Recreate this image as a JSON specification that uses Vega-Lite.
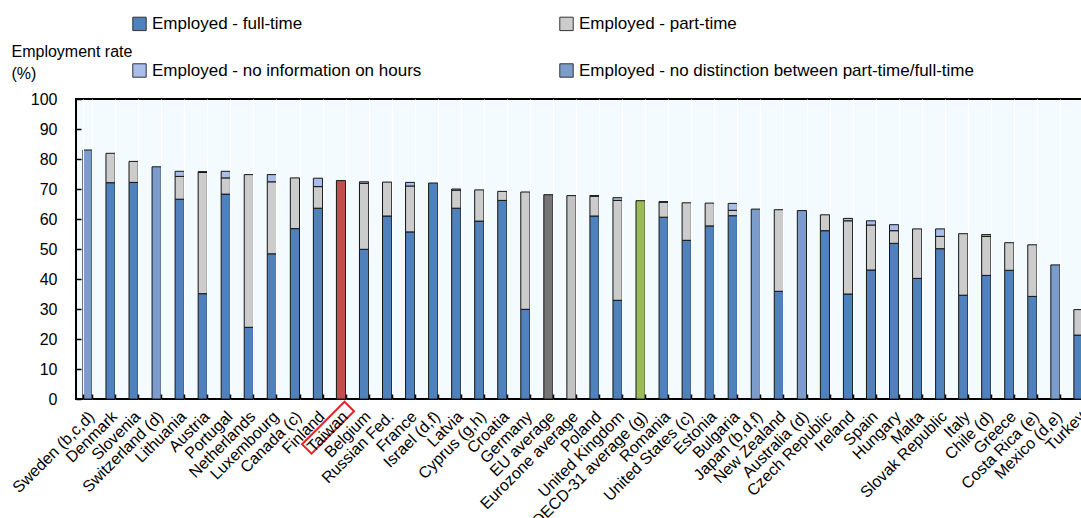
{
  "$schema": "https://vega.github.io/schema/vega-lite/v6.json",
  "width": 1014,
  "height": 300,
  "autosize": {"type": "none"},
  "padding": {"left": 76, "top": 99, "right": 0, "bottom": 119},
  "background": "#FFFFFF",
  "config": {
    "font": "Liberation Sans",
    "view": {"fill": "#F4FBFE", "stroke": "#000000", "strokeWidth": 2},
    "axis": {"labelColor": "#000000", "labelFont": "Liberation Sans", "titleColor": "#000000"}
  },
  "data": {
    "values": [
      {"country": "Sweden (b,c,d)", "type": "Employed - no distinction between part-time/full-time", "value": 83.0},
      {"country": "Denmark", "type": "Employed - full-time", "value": 72.1},
      {"country": "Denmark", "type": "Employed - part-time", "value": 9.8},
      {"country": "Slovenia", "type": "Employed - full-time", "value": 72.2},
      {"country": "Slovenia", "type": "Employed - part-time", "value": 7.0},
      {"country": "Switzerland (d)", "type": "Employed - no distinction between part-time/full-time", "value": 77.4},
      {"country": "Lithuania", "type": "Employed - full-time", "value": 66.6},
      {"country": "Lithuania", "type": "Employed - part-time", "value": 7.6},
      {"country": "Lithuania", "type": "Employed - no information on hours", "value": 1.7},
      {"country": "Austria", "type": "Employed - full-time", "value": 35.1},
      {"country": "Austria", "type": "Employed - part-time", "value": 40.4},
      {"country": "Austria", "type": "Employed - no information on hours", "value": 0.3},
      {"country": "Portugal", "type": "Employed - full-time", "value": 68.3},
      {"country": "Portugal", "type": "Employed - part-time", "value": 5.4},
      {"country": "Portugal", "type": "Employed - no information on hours", "value": 2.2},
      {"country": "Netherlands", "type": "Employed - full-time", "value": 23.9},
      {"country": "Netherlands", "type": "Employed - part-time", "value": 50.9},
      {"country": "Luxembourg", "type": "Employed - full-time", "value": 48.4},
      {"country": "Luxembourg", "type": "Employed - part-time", "value": 24.0},
      {"country": "Luxembourg", "type": "Employed - no information on hours", "value": 2.4},
      {"country": "Canada (c)", "type": "Employed - full-time", "value": 56.8},
      {"country": "Canada (c)", "type": "Employed - part-time", "value": 16.9},
      {"country": "Finland", "type": "Employed - full-time", "value": 63.6},
      {"country": "Finland", "type": "Employed - part-time", "value": 7.2},
      {"country": "Finland", "type": "Employed - no information on hours", "value": 2.8},
      {"country": "Taiwan", "type": "Total - Taiwan", "value": 72.8},
      {"country": "Belgium", "type": "Employed - full-time", "value": 49.9},
      {"country": "Belgium", "type": "Employed - part-time", "value": 22.0},
      {"country": "Belgium", "type": "Employed - no information on hours", "value": 0.5},
      {"country": "Russian Fed.", "type": "Employed - full-time", "value": 61.0},
      {"country": "Russian Fed.", "type": "Employed - part-time", "value": 11.3},
      {"country": "France", "type": "Employed - full-time", "value": 55.7},
      {"country": "France", "type": "Employed - part-time", "value": 15.3},
      {"country": "France", "type": "Employed - no information on hours", "value": 1.2},
      {"country": "Israel (d,f)", "type": "Employed - full-time", "value": 72.0},
      {"country": "Latvia", "type": "Employed - full-time", "value": 63.6},
      {"country": "Latvia", "type": "Employed - part-time", "value": 6.0},
      {"country": "Latvia", "type": "Employed - no information on hours", "value": 0.4},
      {"country": "Cyprus (g,h)", "type": "Employed - full-time", "value": 59.3},
      {"country": "Cyprus (g,h)", "type": "Employed - part-time", "value": 10.4},
      {"country": "Croatia", "type": "Employed - full-time", "value": 66.2},
      {"country": "Croatia", "type": "Employed - part-time", "value": 3.0},
      {"country": "Germany", "type": "Employed - full-time", "value": 29.9},
      {"country": "Germany", "type": "Employed - part-time", "value": 39.1},
      {"country": "EU average", "type": "Total - EU average", "value": 68.1},
      {"country": "Eurozone average", "type": "Total - Eurozone average", "value": 67.8},
      {"country": "Poland", "type": "Employed - full-time", "value": 61.0},
      {"country": "Poland", "type": "Employed - part-time", "value": 6.6},
      {"country": "Poland", "type": "Employed - no information on hours", "value": 0.2},
      {"country": "United Kingdom", "type": "Employed - full-time", "value": 32.9},
      {"country": "United Kingdom", "type": "Employed - part-time", "value": 33.3},
      {"country": "United Kingdom", "type": "Employed - no information on hours", "value": 0.9},
      {"country": "OECD-31 average (g)", "type": "Total - OECD-31 average", "value": 66.1},
      {"country": "Romania", "type": "Employed - full-time", "value": 60.6},
      {"country": "Romania", "type": "Employed - part-time", "value": 5.0},
      {"country": "Romania", "type": "Employed - no information on hours", "value": 0.2},
      {"country": "United States (c)", "type": "Employed - full-time", "value": 52.9},
      {"country": "United States (c)", "type": "Employed - part-time", "value": 12.5},
      {"country": "Estonia", "type": "Employed - full-time", "value": 57.7},
      {"country": "Estonia", "type": "Employed - part-time", "value": 7.6},
      {"country": "Bulgaria", "type": "Employed - full-time", "value": 61.1},
      {"country": "Bulgaria", "type": "Employed - part-time", "value": 1.8},
      {"country": "Bulgaria", "type": "Employed - no information on hours", "value": 2.3},
      {"country": "Japan (b,d,f)", "type": "Employed - no distinction between part-time/full-time", "value": 63.3},
      {"country": "New Zealand", "type": "Employed - full-time", "value": 35.9},
      {"country": "New Zealand", "type": "Employed - part-time", "value": 27.2},
      {"country": "Australia (d)", "type": "Employed - no distinction between part-time/full-time", "value": 62.8},
      {"country": "Czech Republic", "type": "Employed - full-time", "value": 56.1},
      {"country": "Czech Republic", "type": "Employed - part-time", "value": 5.3},
      {"country": "Ireland", "type": "Employed - full-time", "value": 35.0},
      {"country": "Ireland", "type": "Employed - part-time", "value": 24.4},
      {"country": "Ireland", "type": "Employed - no information on hours", "value": 0.8},
      {"country": "Spain", "type": "Employed - full-time", "value": 43.0},
      {"country": "Spain", "type": "Employed - part-time", "value": 15.0},
      {"country": "Spain", "type": "Employed - no information on hours", "value": 1.4},
      {"country": "Hungary", "type": "Employed - full-time", "value": 51.9},
      {"country": "Hungary", "type": "Employed - part-time", "value": 4.2},
      {"country": "Hungary", "type": "Employed - no information on hours", "value": 2.0},
      {"country": "Malta", "type": "Employed - full-time", "value": 40.2},
      {"country": "Malta", "type": "Employed - part-time", "value": 16.5},
      {"country": "Slovak Republic", "type": "Employed - full-time", "value": 50.1},
      {"country": "Slovak Republic", "type": "Employed - part-time", "value": 4.1},
      {"country": "Slovak Republic", "type": "Employed - no information on hours", "value": 2.5},
      {"country": "Italy", "type": "Employed - full-time", "value": 34.6},
      {"country": "Italy", "type": "Employed - part-time", "value": 20.5},
      {"country": "Chile (d)", "type": "Employed - full-time", "value": 41.2},
      {"country": "Chile (d)", "type": "Employed - part-time", "value": 13.0},
      {"country": "Chile (d)", "type": "Employed - no information on hours", "value": 0.6},
      {"country": "Greece", "type": "Employed - full-time", "value": 42.9},
      {"country": "Greece", "type": "Employed - part-time", "value": 9.2},
      {"country": "Costa Rica (e)", "type": "Employed - full-time", "value": 34.2},
      {"country": "Costa Rica (e)", "type": "Employed - part-time", "value": 17.2},
      {"country": "Mexico (d,e)", "type": "Employed - no distinction between part-time/full-time", "value": 44.7},
      {"country": "Turkey", "type": "Employed - full-time", "value": 21.3},
      {"country": "Turkey", "type": "Employed - part-time", "value": 8.5}
    ]
  },
  "transform": [
    {"calculate": "indexof(['Employed - full-time', 'Employed - part-time', 'Employed - no information on hours'], datum.type)", "as": "stackOrder"}
  ],
  "encoding": {
    "x": {
      "field": "country",
      "type": "nominal",
      "sort": null,
      "scale": {"paddingInner": 0.6, "paddingOuter": 0.3},
      "axis": {
        "title": null,
        "labelAngle": -45,
        "labelAlign": "right",
        "labelBaseline": "top",
        "labelFontSize": 16,
        "labelLimit": 300,
        "labelPadding": 9,
        "labelOffset": -2,
        "labelOverlap": false,
        "ticks": true,
        "tickBand": "extent",
        "tickSize": 5,
        "offset": -5,
        "tickColor": "#000000",
        "tickWidth": 1.5,
        "domain": false,
        "grid": true,
        "gridColor": "#FFFFFF",
        "gridWidth": 1,
        "zindex": 1
      }
    }
  },
  "layer": [
    {
      "mark": {"type": "bar", "stroke": "#141414", "strokeWidth": 1},
      "encoding": {
        "y": {
          "field": "value",
          "type": "quantitative",
          "stack": "zero",
          "scale": {"domain": [0, 100], "nice": false},
          "axis": {
            "values": [0, 10, 20, 30, 40, 50, 60, 70, 80, 90, 100],
            "title": ["Employment rate", "(%)"],
            "titleAngle": 0,
            "titleAlign": "left",
            "titleBaseline": "alphabetic",
            "titleX": -70,
            "titleY": -43,
            "titleFontSize": 16,
            "titleFontWeight": "normal",
            "titleLineHeight": 22,
            "labelFontSize": 16,
            "labelPadding": 19,
            "labelOverlap": false,
            "ticks": true,
            "tickSize": 5,
            "offset": -5,
            "tickColor": "#000000",
            "tickWidth": 1.5,
            "domain": false,
            "grid": false,
            "zindex": 1
          }
        },
        "color": {
          "field": "type",
          "type": "nominal",
          "scale": {
            "domain": [
              "Employed - full-time",
              "Employed - part-time",
              "Employed - no information on hours",
              "Employed - no distinction between part-time/full-time",
              "Total - Taiwan",
              "Total - OECD-31 average",
              "Total - EU average",
              "Total - Eurozone average"
            ],
            "range": ["#4F81BD", "#CCCCCC", "#A9BDEA", "#7C9DCB", "#C0504D", "#9BBB59", "#767676", "#C2C2C2"]
          },
          "legend": {
            "values": [
              "Employed - full-time",
              "Employed - no information on hours",
              "Employed - part-time",
              "Employed - no distinction between part-time/full-time"
            ],
            "title": null,
            "orient": "none",
            "legendX": 55,
            "legendY": -84,
            "columns": 2,
            "columnPadding": 135,
            "rowPadding": 28,
            "symbolType": "square",
            "symbolSize": 180,
            "symbolStrokeColor": "#333333",
            "symbolStrokeWidth": 1,
            "labelFontSize": 17,
            "labelOffset": 4,
            "labelLimit": 500,
            "labelColor": "#000000",
            "padding": 0
          }
        },
        "order": {"field": "stackOrder", "type": "quantitative"}
      }
    },
    {
      "transform": [{"filter": "datum.country === 'Taiwan'"}],
      "mark": {
        "type": "point",
        "filled": false,
        "shape": "M16.5,-26L26,-16.5L-16.5,26L-26,16.5Z",
        "size": 4,
        "stroke": "#E3242B",
        "strokeWidth": 2,
        "opacity": 1,
        "xOffset": -13,
        "yOffset": 28.7
      },
      "encoding": {
        "y": {"datum": 0, "type": "quantitative", "axis": null}
      }
    }
  ],
  "resolve": {"axis": {"y": "independent"}}
}
